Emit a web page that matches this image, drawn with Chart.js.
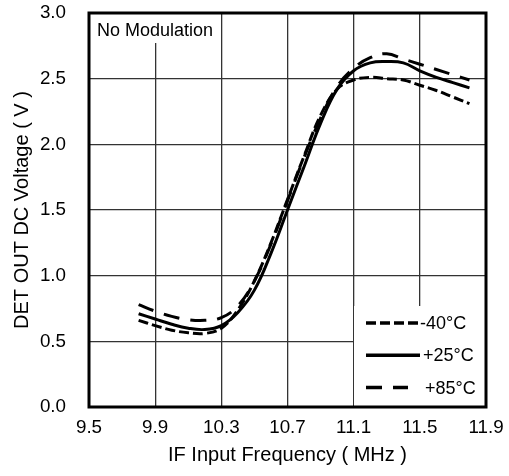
<!DOCTYPE html>
<html>
<head>
<meta charset="utf-8">
<script src="https://cdn.jsdelivr.net/npm/chart.js@4/dist/chart.umd.min.js"></script>
<style>
    html, body { margin: 0; padding: 0; background: #fff; }
    #wrap { width: 509px; height: 476px; }
</style>
</head>
<body>
<div id="wrap"><canvas id="detChart" width="509" height="476"></canvas></div>
<script>
// IF frequency (MHz)
const freq = [9.8, 9.9, 10.0, 10.1, 10.2, 10.3, 10.4, 10.5, 10.6, 10.7, 10.8,
    10.9, 11.0, 11.1, 11.2, 11.3, 11.4, 11.5, 11.6, 11.7, 11.8];
// DET OUT DC voltage (V)
const vMinus40 = [0.66, 0.62, 0.585, 0.565, 0.56, 0.60, 0.74, 0.96, 1.25, 1.58, 1.91,
    2.22, 2.42, 2.49, 2.51, 2.50, 2.49, 2.45, 2.41, 2.36, 2.31];
const vPlus25 = [0.71, 0.67, 0.63, 0.60, 0.59, 0.62, 0.72, 0.89, 1.17, 1.50, 1.83,
    2.16, 2.42, 2.56, 2.62, 2.63, 2.62, 2.56, 2.51, 2.47, 2.43];
const vPlus85 = [0.78, 0.73, 0.69, 0.665, 0.66, 0.68, 0.77, 0.96, 1.24, 1.57, 1.90,
    2.20, 2.44, 2.58, 2.66, 2.69, 2.65, 2.61, 2.57, 2.53, 2.49];

const xTicks = [9.5, 9.9, 10.3, 10.7, 11.1, 11.5, 11.9];
const yTicks = [0, 0.5, 1.0, 1.5, 2.0, 2.5, 3.0];
const seriesNames = ['-40°C', '+25°C', '+85°C'];
const noteText = 'No Modulation';

const FONT = '"Liberation Sans", Arial, sans-serif';

function toPoints(ys) {
    return freq.map((x, i) => ({ x: x, y: ys[i] }));
}

// white boxes for the note and legend, drawn over the grid but under the curves
const boxesPlugin = {
    id: 'boxes',
    beforeDatasetsDraw(chart) {
        const ctx = chart.ctx;
        const a = chart.chartArea;
        ctx.save();
        ctx.fillStyle = '#fff';
        ctx.fillRect(a.left + 1, a.top + 1, 126, 29);
        ctx.fillRect(a.right - 132, a.bottom - 101, 131, 100);
        ctx.fillStyle = '#000';
        ctx.font = '18px ' + FONT;
        ctx.textBaseline = 'middle';
        ctx.fillText(noteText, a.left + 8, a.top + 18);

        // legend
        const sets = chart.data.datasets;
        const textX = [420, 423, 425];
        ctx.font = '18px ' + FONT;
        for (let i = 0; i < sets.length; i++) {
            const y = a.bottom - 84 + i * 32.3;
            ctx.beginPath();
            ctx.lineWidth = 3.5;
            ctx.strokeStyle = '#000';
            ctx.setLineDash(sets[i].borderDash || []);
            ctx.moveTo(a.right - 120, y);
            ctx.lineTo(a.right - (i == 2 ? 78 : 66), y);
            ctx.stroke();
            ctx.setLineDash([]);
            ctx.fillText(seriesNames[i], textX[i], y + 1);
        }
        ctx.restore();
    },
    afterDraw(chart) {
        const ctx = chart.ctx;
        const a = chart.chartArea;
        ctx.save();
        ctx.lineWidth = 3;
        ctx.strokeStyle = '#000';
        ctx.strokeRect(a.left, a.top, a.right - a.left, a.bottom - a.top);
        ctx.restore();
    }
};

const canvas = document.getElementById('detChart').getContext('2d');
const detChart = new Chart(canvas, {
    type: 'line',
    data: {
        datasets: [{
            label: seriesNames[0],
            data: toPoints(vMinus40),
            borderColor: '#000',
            borderWidth: 3,
            borderDash: [10, 4],
            pointRadius: 0,
            tension: 0.4
        }, {
            label: seriesNames[1],
            data: toPoints(vPlus25),
            borderColor: '#000',
            borderWidth: 3,
            pointRadius: 0,
            tension: 0.4
        }, {
            label: seriesNames[2],
            data: toPoints(vPlus85),
            borderColor: '#000',
            borderWidth: 3,
            borderDash: [16, 11],
            pointRadius: 0,
            tension: 0.4
        }]
    },
    options: {
        responsive: false,
        animation: false,
        layout: {
            padding: { top: 13, right: 23, left: 0, bottom: 0 }
        },
        plugins: {
            legend: { display: false },
            tooltip: { enabled: false }
        },
        scales: {
            x: {
                type: 'linear',
                min: 9.5,
                max: 11.9,
                afterBuildTicks(scale) {
                    scale.ticks = xTicks.map(v => ({ value: v }));
                },
                afterFit(scale) {
                    scale.height = 69;
                    scale.paddingLeft = 0;
                    scale.paddingRight = 0;
                },
                grid: { color: '#333', lineWidth: 1.3, drawTicks: false },
                border: { display: false },
                ticks: {
                    color: '#000',
                    padding: 10,
                    font: { family: FONT, size: 18.8 },
                    callback: v => v.toFixed(1)
                },
                title: {
                    display: true,
                    text: 'IF Input Frequency ( MHz )',
                    color: '#000',
                    font: { family: FONT, size: 20 },
                    padding: { top: 0, bottom: 9 }
                }
            },
            y: {
                type: 'linear',
                min: 0,
                max: 3,
                afterBuildTicks(scale) {
                    scale.ticks = yTicks.map(v => ({ value: v }));
                },
                afterFit(scale) {
                    scale.width = 89;
                    scale.paddingTop = 0;
                    scale.paddingBottom = 0;
                },
                grid: { color: '#333', lineWidth: 1.3, drawTicks: false },
                border: { display: false },
                ticks: {
                    color: '#000',
                    padding: 23,
                    font: { family: FONT, size: 18.8 },
                    callback: v => v.toFixed(1)
                },
                title: {
                    display: true,
                    text: 'DET OUT DC Voltage ( V )',
                    color: '#000',
                    font: { family: FONT, size: 20 },
                    padding: { top: 10, bottom: 0 }
                }
            }
        }
    },
    plugins: [boxesPlugin]
});
</script>
</body>
</html>
